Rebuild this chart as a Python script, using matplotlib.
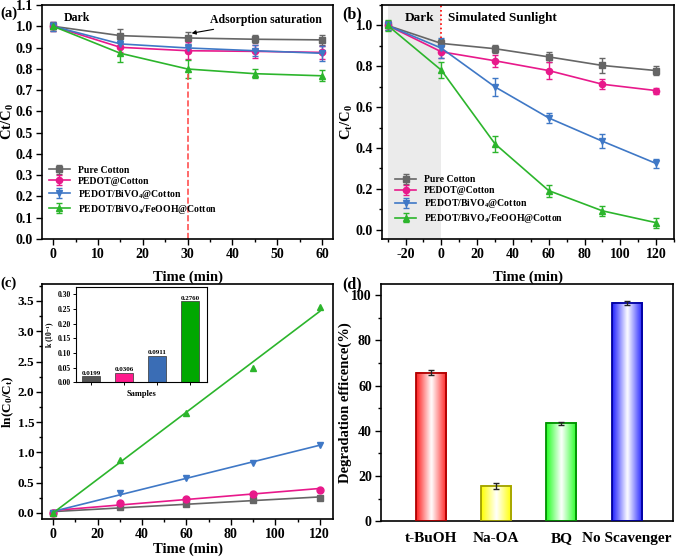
import numpy as np
import matplotlib
matplotlib.use("Agg")
import matplotlib.pyplot as plt
from matplotlib.ticker import MultipleLocator
from matplotlib.colors import LinearSegmentedColormap

plt.rcParams['font.family'] = ['Liberation Serif', 'DejaVu Serif']
plt.rcParams['font.weight'] = 'bold'
plt.rcParams['axes.labelweight'] = 'bold'
plt.rcParams['mathtext.fontset'] = 'custom'
plt.rcParams['mathtext.rm'] = 'Liberation Serif:bold'
plt.rcParams['mathtext.it'] = 'Liberation Serif:bold:italic'
plt.rcParams['mathtext.bf'] = 'Liberation Serif:bold'
plt.rcParams['mathtext.default'] = 'rm'
plt.rcParams['axes.linewidth'] = 1.2
plt.rcParams['axes.unicode_minus'] = False

# ---- data ----
names = ['Pure Cotton', 'PEDOT@Cotton', 'PEDOT/BiVO$_4$@Cotton', 'PEDOT/BiVO$_4$/FeOOH@Cotton']
colors = ['#666666', '#e8198b', '#3f78c6', '#2cb52c']
markers = ['s', 'o', 'v', '^']

# (a) dark adsorption
t_a = [0, 15, 30, 45, 60]
a_vals = [[1.0, 0.956, 0.945, 0.939, 0.936],
          [1.0, 0.901, 0.885, 0.882, 0.877],
          [1.0, 0.917, 0.898, 0.885, 0.873],
          [1.0, 0.873, 0.799, 0.777, 0.767]]
a_err = [[0.02, 0.03, 0.028, 0.02, 0.025],
         [0.02, 0.02, 0.04, 0.03, 0.03],
         [0.02, 0.02, 0.02, 0.025, 0.035],
         [0.015, 0.04, 0.04, 0.022, 0.025]]

# (b) degradation under sunlight
t_b = [-30, 0, 30, 60, 90, 120]
b_vals = [[1.0, 0.912, 0.886, 0.846, 0.804, 0.779],
          [1.0, 0.871, 0.827, 0.779, 0.712, 0.681],
          [1.0, 0.889, 0.699, 0.547, 0.433, 0.324],
          [1.0, 0.781, 0.420, 0.191, 0.092, 0.034]]
b_err = [[0.02, 0.02, 0.02, 0.025, 0.035, 0.02],
         [0.02, 0.03, 0.03, 0.04, 0.025, 0.015],
         [0.02, 0.05, 0.045, 0.025, 0.035, 0.02],
         [0.025, 0.04, 0.04, 0.03, 0.025, 0.025]]

# (c) kinetics
t_c = [0, 30, 60, 90, 120]
c_vals = [[0.0, 0.10, 0.154, 0.21, 0.248],
          [0.0, 0.17, 0.237, 0.32, 0.38],
          [0.0, 0.33, 0.578, 0.83, 1.117],
          [0.0, 0.87, 1.657, 2.394, 3.40]]
k_vals = [0.0199, 0.0306, 0.0911, 0.2760]
k_labels = ['0.0199', '0.0306', '0.0911', '0.2760']
k_colors = ['#555555', '#ff1a8c', '#3a6db5', '#00a800']

# (d) scavengers
scav = ['t-BuOH', 'Na-OA', 'BQ', 'No Scavenger']
eff = [65.8, 15.7, 43.4, 96.7]
eff_err = [1.0, 1.4, 0.7, 0.8]
scav_colors = ['#ff2020', '#ffff00', '#22ff22', '#2020ff']
scav_edges = ['#b00000', '#a0a000', '#009000', '#0000a0']

fig = plt.figure(figsize=(6.85, 5.58), dpi=100)
axa = fig.add_axes([0.0613, 0.572, 0.425, 0.419])
axb = fig.add_axes([0.558, 0.572, 0.426, 0.419])
axc = fig.add_axes([0.0613, 0.070, 0.425, 0.421])
axd = fig.add_axes([0.556, 0.066, 0.426, 0.425])

tick_fs = 10
lab_fs = 10.5


def style(ax):
    ax.tick_params(which='both', direction='out', top=False, right=False,
                   labelsize=tick_fs, width=1.0, pad=2.5)
    ax.tick_params(which='major', length=4)
    ax.tick_params(which='minor', length=2.5)


# ---- (a) ----
for i in range(4):
    axa.errorbar(t_a, a_vals[i], yerr=a_err[i], color=colors[i], marker=markers[i],
                 ms=4.5, lw=1.2, capsize=2.5, elinewidth=1, label=names[i])
axa.axvline(30, ymin=0, ymax=0.8 / 1.1, color='#ff5050', ls='--', lw=1.2)
axa.set_xlim(-2.5, 62.5)
axa.set_ylim(0, 1.1)
axa.xaxis.set_major_locator(MultipleLocator(10))
axa.xaxis.set_minor_locator(MultipleLocator(5))
axa.yaxis.set_major_locator(MultipleLocator(0.1))
style(axa)
axa.set_xlabel('Time (min)', fontsize=lab_fs, labelpad=7)
axa.set_ylabel('Ct/C$_0$', fontsize=lab_fs)
axa.yaxis.set_label_coords(-0.088, 0.5)
axa.text(2.3, 1.025, 'Dark', fontsize=8.5)
axa.annotate('Adsorption saturation', xy=(30.3, 0.965), xytext=(35, 1.015),
             fontsize=8.5, arrowprops=dict(arrowstyle='-|>', color='black', lw=0.8,
                                           mutation_scale=6))
axa.legend(loc='lower left', bbox_to_anchor=(0.0, 0.07), frameon=False, fontsize=7,
           handlelength=2.2, labelspacing=0.2, borderaxespad=0.3)

# ---- (b) ----
axb.axvspan(-30, 0, color='#ebebeb', zorder=0, lw=0)
for i in range(4):
    axb.errorbar(t_b, b_vals[i], yerr=b_err[i], color=colors[i], marker=markers[i],
                 ms=4.5, lw=1.2, capsize=2.5, elinewidth=1, label=names[i])
axb.axvline(0, ymin=0.82, ymax=1, color='red', ls=':', lw=1.2)
axb.set_xlim(-33, 130)
axb.set_ylim(-0.045, 1.1)
axb.xaxis.set_major_locator(MultipleLocator(20))
axb.xaxis.set_minor_locator(MultipleLocator(10))
axb.yaxis.set_major_locator(MultipleLocator(0.2))
axb.yaxis.set_minor_locator(MultipleLocator(0.1))
style(axb)
axb.set_xlabel('Time (min)', fontsize=lab_fs, labelpad=7)
axb.set_ylabel('C$_t$/C$_0$', fontsize=lab_fs)
axb.yaxis.set_label_coords(-0.095, 0.5)
axb.text(-20.5, 1.02, 'Dark', fontsize=9.5)
axb.text(3.6, 1.02, 'Simulated Sunlight', fontsize=9.5)
axb.legend(loc='lower left', bbox_to_anchor=(0.02, 0.03), frameon=False, fontsize=7,
           handlelength=2.2, labelspacing=0.2, borderaxespad=0.3)

# ---- (c) ----
xfit = np.array([0, 120])
for i in range(4):
    axc.plot(t_c, c_vals[i], ls='none', color=colors[i], marker=markers[i], ms=5)
    p = np.polyfit(t_c, c_vals[i], 1)
    axc.plot(xfit, np.polyval(p, xfit), color=colors[i], lw=1.2)
axc.set_xlim(-5, 126)
axc.set_ylim(-0.1, 3.78)
axc.xaxis.set_major_locator(MultipleLocator(20))
axc.xaxis.set_minor_locator(MultipleLocator(10))
axc.yaxis.set_major_locator(MultipleLocator(0.5))
axc.yaxis.set_minor_locator(MultipleLocator(0.25))
style(axc)
axc.tick_params(axis='y', pad=1.5, labelsize=9.5)
axc.set_xlabel('Time (min)', fontsize=lab_fs, labelpad=1)
axc.set_ylabel('ln(C$_0$/C$_t$)', fontsize=9.5)
axc.yaxis.set_label_coords(-0.088, 0.5)

axi = fig.add_axes([0.111, 0.315, 0.191, 0.170])
xi = np.arange(1, 5)
axi.bar(xi, k_vals, width=0.55, color=k_colors, edgecolor='#333333', lw=0.5)
for x, v, s in zip(xi, k_vals, k_labels):
    axi.text(x, v + 0.003, s, ha='center', va='bottom', fontsize=5)
axi.set_xlim(0.55, 4.5)
axi.set_ylim(0, 0.324)
axi.yaxis.set_major_locator(MultipleLocator(0.05))
axi.set_xticks(xi)
axi.set_xticklabels([])
axi.tick_params(direction='out', length=2, width=0.7, labelsize=5.5, pad=1.5,
                top=False, right=False)
axi.set_xlabel('Samples', fontsize=6, labelpad=2)
axi.set_ylabel('k (10$^{-1}$)', fontsize=5.5, labelpad=1)
for s in axi.spines.values():
    s.set_linewidth(0.8)

# ---- (d) ----
xd = np.arange(1, 5)
bw = 0.46
for x, v, e, c, ec in zip(xd, eff, eff_err, scav_colors, scav_edges):
    cmap = LinearSegmentedColormap.from_list('g', [c, 'white', c])
    grad = np.linspace(0, 1, 64).reshape(1, -1)
    axd.imshow(grad, cmap=cmap, extent=[x - bw / 2, x + bw / 2, 0, v], aspect='auto',
               zorder=2, interpolation='bicubic')
    axd.bar(x, v, width=bw, fill=False, edgecolor=ec, lw=1.3, zorder=3)
    axd.errorbar(x, v, yerr=e, color='#222222', capsize=2.5, elinewidth=1, zorder=4)
axd.set_xlim(0.24, 4.7)
axd.set_ylim(0, 105)
axd.set_xticks(xd)
axd.set_xticklabels(scav)
axd.yaxis.set_major_locator(MultipleLocator(20))
axd.yaxis.set_minor_locator(MultipleLocator(10))
style(axd)
axd.tick_params(axis='x', length=0, pad=8, labelsize=11)
axd.set_ylabel('Degradation efficence(%)', fontsize=lab_fs)
axd.yaxis.set_label_coords(-0.1, 0.5)

# panel letters
fig.text(0.0, 0.988, '(a)', fontsize=10.5, va='top')
fig.text(0.500, 0.988, '(b)', fontsize=11.5, va='top')
fig.text(0.0, 0.505, '(c)', fontsize=10.5, va='top')
fig.text(0.500, 0.505, '(d)', fontsize=11.5, va='top')

fig.savefig('out.png', dpi=100)
